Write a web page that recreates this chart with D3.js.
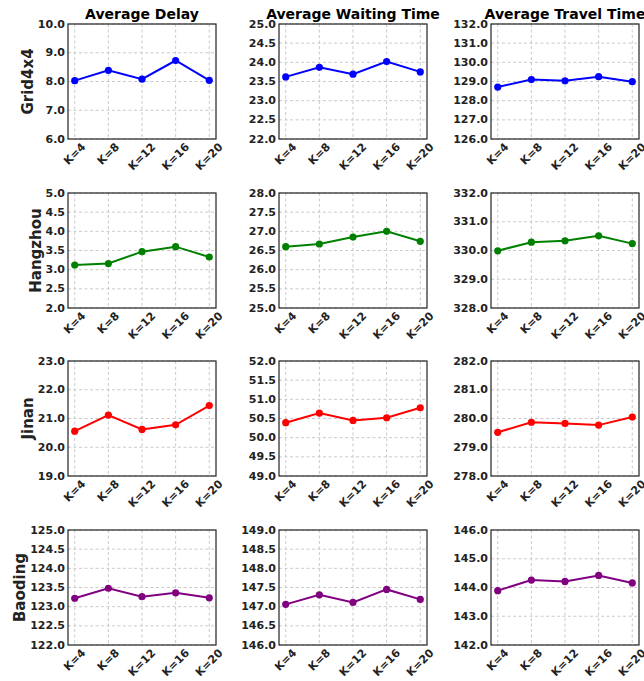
<!DOCTYPE html>
<html>
<head>
<meta charset="utf-8">
<script src="https://cdn.jsdelivr.net/npm/d3@7/dist/d3.min.js"></script>
<style>
  html, body { margin: 0; padding: 0; background: #fff; }
  svg { display: block; }
  text { font-family: "DejaVu Sans", sans-serif; }
</style>
</head>
<body>
<svg id="chart" width="644" height="681"></svg>
<script>
// ---------- data ----------
const kLabels = ["K=4", "K=8", "K=12", "K=16", "K=20"];
const cities = ["Grid4x4", "Hangzhou", "Jinan", "Baoding"];
const metrics = ["Average Delay", "Average Waiting Time", "Average Travel Time"];

const grid4x4Delay   = [8.03, 8.39, 8.08, 8.73, 8.04];
const grid4x4Waiting = [23.62, 23.87, 23.69, 24.02, 23.75];
const grid4x4Travel  = [128.71, 129.10, 129.04, 129.25, 128.99];

const hangzhouDelay   = [3.12, 3.16, 3.47, 3.60, 3.33];
const hangzhouWaiting = [26.60, 26.67, 26.85, 27.00, 26.74];
const hangzhouTravel  = [329.99, 330.29, 330.34, 330.51, 330.24];

const jinanDelay   = [20.56, 21.12, 20.62, 20.78, 21.45];
const jinanWaiting = [50.39, 50.64, 50.45, 50.52, 50.78];
const jinanTravel  = [279.52, 279.87, 279.83, 279.77, 280.05];

const baodingDelay   = [123.22, 123.48, 123.26, 123.36, 123.23];
const baodingWaiting = [147.06, 147.31, 147.11, 147.45, 147.19];
const baodingTravel  = [143.89, 144.26, 144.21, 144.42, 144.16];

// y tick values per panel
const grid4x4DelayTicks   = [6, 7, 8, 9, 10];
const grid4x4WaitingTicks = [22, 22.5, 23, 23.5, 24, 24.5, 25];
const grid4x4TravelTicks  = [126, 127, 128, 129, 130, 131, 132];
const hangzhouDelayTicks   = [2, 2.5, 3, 3.5, 4, 4.5, 5];
const hangzhouWaitingTicks = [25, 25.5, 26, 26.5, 27, 27.5, 28];
const hangzhouTravelTicks  = [328, 329, 330, 331, 332];
const jinanDelayTicks   = [19, 20, 21, 22, 23];
const jinanWaitingTicks = [49, 49.5, 50, 50.5, 51, 51.5, 52];
const jinanTravelTicks  = [278, 279, 280, 281, 282];
const baodingDelayTicks   = [122, 122.5, 123, 123.5, 124, 124.5, 125];
const baodingWaitingTicks = [146, 146.5, 147, 147.5, 148, 148.5, 149];
const baodingTravelTicks  = [142, 143, 144, 145, 146];

const panelValues = [
  [grid4x4Delay, grid4x4Waiting, grid4x4Travel],
  [hangzhouDelay, hangzhouWaiting, hangzhouTravel],
  [jinanDelay, jinanWaiting, jinanTravel],
  [baodingDelay, baodingWaiting, baodingTravel]
];
const panelTicks = [
  [grid4x4DelayTicks, grid4x4WaitingTicks, grid4x4TravelTicks],
  [hangzhouDelayTicks, hangzhouWaitingTicks, hangzhouTravelTicks],
  [jinanDelayTicks, jinanWaitingTicks, jinanTravelTicks],
  [baodingDelayTicks, baodingWaitingTicks, baodingTravelTicks]
];

// ---------- styles / layout ----------
const rowColors = ["#0000ff", "#008000", "#ff0000", "#800080"];
const colLefts = [68, 279, 491];
const rowTops = [24, 193, 361, 530];
const pw = 148, ph = 115;
const textColor = "#222";

const svg = d3.select("#chart");

cities.forEach((city, r) => {
  let minTickLeft = Infinity;
  metrics.forEach((metric, c) => {
    const left = colLefts[c], top = rowTops[r];
    const ticks = panelTicks[r][c];
    const vals = panelValues[r][c];
    const x = d3.scalePoint().domain(kLabels).range([left, left + pw]).padding(0.2);
    const y = d3.scaleLinear().domain([ticks[0], ticks[ticks.length - 1]]).range([top + ph, top]);

    const g = svg.append("g");

    // grid
    g.selectAll(".hg").data(ticks).join("line")
      .attr("x1", left).attr("x2", left + pw)
      .attr("y1", d => y(d)).attr("y2", d => y(d))
      .attr("stroke", "#c4c4c4").attr("stroke-width", 0.9)
      .attr("stroke-dasharray", "3,2.5");
    g.selectAll(".vg").data(kLabels).join("line")
      .attr("x1", d => x(d)).attr("x2", d => x(d))
      .attr("y1", top).attr("y2", top + ph)
      .attr("stroke", "#c4c4c4").attr("stroke-width", 0.9)
      .attr("stroke-dasharray", "3,2.5");

    // line + markers
    const pts = kLabels.map((k, i) => [x(k), y(vals[i])]);
    g.append("path")
      .attr("d", d3.line()(pts))
      .attr("fill", "none").attr("stroke", rowColors[r]).attr("stroke-width", 2);
    g.selectAll("circle").data(pts).join("circle")
      .attr("cx", d => d[0]).attr("cy", d => d[1]).attr("r", 3.6)
      .attr("fill", rowColors[r]);

    // frame
    g.append("rect")
      .attr("x", left).attr("y", top).attr("width", pw).attr("height", ph)
      .attr("fill", "none").attr("stroke", "#222").attr("stroke-width", 1.2);

    // y tick labels
    const yl = g.selectAll(".yl").data(ticks).join("text")
      .attr("x", left - 3).attr("y", d => y(d))
      .attr("text-anchor", "end").attr("dominant-baseline", "central")
      .attr("font-size", 11).attr("font-weight", "bold").attr("fill", textColor)
      .text(d => d3.format(".1f")(d));
    if (c === 0) {
      yl.each(function() { minTickLeft = Math.min(minTickLeft, this.getBBox().x); });
    }

    // x tick labels rotated
    kLabels.forEach(k => {
      const t = g.append("text")
        .attr("text-anchor", "middle").attr("dominant-baseline", "central")
        .attr("font-size", 11).attr("font-weight", "bold").attr("fill", textColor)
        .text(k);
      const w = t.node().getComputedTextLength();
      const h = 9;
      const bh = (w + h) * Math.SQRT1_2;
      const cy = top + ph + 3 + bh / 2;
      t.attr("transform", `translate(${x(k)},${cy}) rotate(-45)`);
    });

    // titles
    if (r === 0) {
      g.append("text")
        .attr("x", left + pw / 2).attr("y", top - 5)
        .attr("text-anchor", "middle")
        .attr("font-size", 14).attr("font-weight", "bold").attr("fill", "#000")
        .text(metric);
    }
  });

  // row label
  const cy = rowTops[r] + ph / 2;
  const bx = minTickLeft - 5;
  svg.append("text")
    .attr("transform", `translate(${bx},${cy}) rotate(-90)`)
    .attr("text-anchor", "middle")
    .attr("font-size", 15).attr("font-weight", "bold").attr("fill", textColor)
    .text(city);
});
</script>
</body>
</html>
